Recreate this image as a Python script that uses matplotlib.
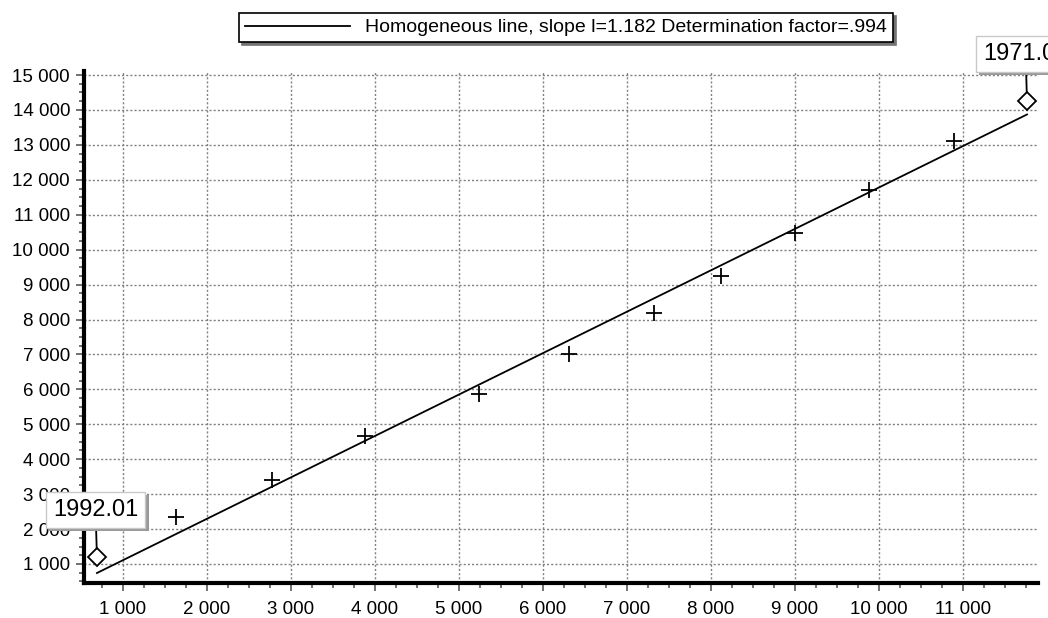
import matplotlib
matplotlib.use("Agg")
import matplotlib.pyplot as plt
import matplotlib.patheffects as pe
from matplotlib.ticker import MultipleLocator, FuncFormatter

plt.rcParams['font.family'] = ['Liberation Sans', 'DejaVu Sans']

# observed points (x, y)
pts_x = [690, 1631, 2774, 3881, 5238, 6310, 7321, 8119, 9000, 9881, 10893, 11762]
pts_y = [1200, 2345, 3405, 4665, 5867, 7012, 8186, 9245, 10476, 11707, 13110, 14255]

# homogeneous (regression) line end points
line_x = [690, 11762]
line_y = [742, 13870]

# labelled end points
end_labels = ["1992.01", "1971.01"]
legend_text = "Homogeneous line, slope l=1.182 Determination factor=.994"


def thousands(v, pos):
    return "{:,.0f}".format(v).replace(",", " ")


fig = plt.figure(figsize=(10.48, 6.18), dpi=100)
ax = fig.add_axes([84 / 1048, 1 - 583 / 618, (1038 - 84) / 1048, (583 - 71) / 618])

ax.plot(line_x, line_y, color='black', lw=1.3, label=legend_text, zorder=3)
ax.plot(pts_x[1:-1], pts_y[1:-1], linestyle='none', marker='+', ms=11, mew=1.3,
        color='black', zorder=4)
ends_x = [pts_x[0], pts_x[-1]]
ends_y = [pts_y[0], pts_y[-1]]
ax.plot(ends_x, ends_y, linestyle='none', marker='D', ms=9.5, mfc='white',
        mec='black', mew=1.3, zorder=5)

for lab, x, y in zip(end_labels, ends_x, ends_y):
    t = ax.annotate(lab, (x, y), xytext=(-1, 34), textcoords='offset points',
                    ha='center', va='center', fontsize=17, zorder=6,
                    annotation_clip=False,
                    bbox=dict(boxstyle='square,pad=0.3', fc='white', ec='#c8c8c8', lw=1),
                    arrowprops=dict(arrowstyle='-', color='black', lw=1.3,
                                    shrinkA=0, shrinkB=6))
    t.get_bbox_patch().set_path_effects([
        pe.SimplePatchShadow(offset=(2.5, -2.5), shadow_rgbFace='0.6', alpha=1),
        pe.Normal()])

ax.set_xlim(536, 11893)
ax.set_ylim(456, 15115)

ax.xaxis.set_major_locator(MultipleLocator(1000))
ax.xaxis.set_minor_locator(MultipleLocator(250))
ax.yaxis.set_major_locator(MultipleLocator(1000))
ax.yaxis.set_minor_locator(MultipleLocator(250))
ax.xaxis.set_major_formatter(FuncFormatter(thousands))
ax.yaxis.set_major_formatter(FuncFormatter(thousands))

ax.grid(True, which='major', linestyle=(0, (1.5, 1.5)), color='0.5', lw=1)
ax.set_axisbelow(True)

for s in ['top', 'right']:
    ax.spines[s].set_visible(False)
for s in ['left', 'bottom']:
    ax.spines[s].set_linewidth(3)
    ax.spines[s].set_color('black')

ax.tick_params(which='major', direction='out', length=6, width=1.2, color='0.35',
               labelsize=13.5, pad=4)
ax.tick_params(which='minor', direction='out', length=3.5, width=1.2, color='0.35')
ax.tick_params(axis='x', which='major', pad=7)

leg = ax.legend(loc='upper center', bbox_to_anchor=(566 / 1048, 1 - 13 / 618),
                bbox_transform=fig.transFigure, fontsize=14, fancybox=False,
                framealpha=1, edgecolor='black', handlelength=5.4,
                borderpad=0.3, handletextpad=0.8, borderaxespad=0,
                shadow={'facecolor': '0.45', 'edgecolor': '0.45', 'alpha': 1})
leg.get_frame().set_linewidth(1.2)

fig.savefig("out.png", dpi=100)
